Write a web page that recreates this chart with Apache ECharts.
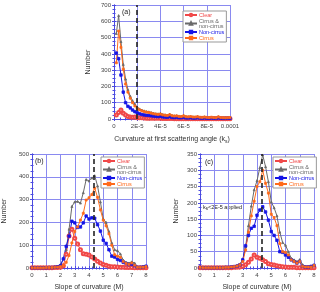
<!DOCTYPE html>
<html><head><meta charset="utf-8">
<script src="https://cdn.jsdelivr.net/npm/echarts@6/dist/echarts.min.js"></script>
<style>html,body{margin:0;padding:0;background:#fff}#c{width:320px;height:292px}</style>
</head><body><div id="c"></div>
<script>
// ---- panel (a): curvature (x in units of 1E-6) ----
const xA = [2,4,6,8,10,12,14,16,18,20,22,24,26,28,30,32,34,36,38,40,42,44,46,48,50,52,54,56,58,60,62,64,66,68,70,72,74,76,78,80,82,84,86,88,90,92,94,96,98,100];
const clearA = [25,40,55,35,25,16,12,10,12,8,7,7,6,5,5,5,4,4,4,4,3,3,3,3,3,2,2,2,2,2,2,2,2,2,1,1,1,1,1,1,1,1,1,1,1,1,1,1,1,1];
const bothA = [525,635,475,335,245,180,140,112,92,72,62,55,50,46,44,40,36,33,32,35,28,26,24,30,22,20,21,18,17,22,16,15,17,14,13,16,12,12,14,11,10,12,10,9,15,10,9,8,9,10];
const nonA = [405,370,270,165,100,78,68,55,45,38,32,28,25,23,22,20,18,16,15,17,13,12,11,14,10,9,10,8,8,10,7,7,8,6,6,8,6,5,7,5,5,6,5,4,7,5,4,4,5,5];
const cirA = [345,540,440,305,215,165,128,100,80,65,56,50,45,42,40,36,32,30,28,30,25,23,21,26,20,18,19,16,15,19,14,13,15,12,12,14,11,10,12,10,9,11,9,8,13,9,8,7,8,9];
const tickA = ['0','2E-5','4E-5','6E-5','8E-5','0.0001'];
const thrA = 20;

// ---- panels (b),(c): slope of curvature ----
const xM = [0,0.2,0.4,0.6,0.8,1,1.2,1.4,1.6,1.8,2,2.2,2.4,2.6,2.8,3,3.2,3.4,3.6,3.8,4,4.2,4.4,4.6,4.8,5,5.2,5.4,5.6,5.8,6,6.2,6.4,6.6,6.8,7,7.2,7.4,7.6,7.8,8];
const clearB = [1,1,1,1,1,1,1,1,2,2,3,10,60,140,170,130,105,80,62,60,57,48,40,30,22,15,12,8,6,5,4,3,3,2,2,2,1,1,1,1,1];
const bothB = [2,2,1,2,2,2,3,3,5,8,15,40,80,170,270,290,292,285,330,388,382,395,405,360,290,215,200,160,110,80,76,62,35,25,22,27,22,5,5,6,8];
const nonB = [1,1,1,1,1,1,2,2,3,5,10,40,95,140,205,198,178,180,198,228,215,220,218,190,162,122,108,80,52,48,38,33,25,20,15,17,10,3,3,5,8];
const cirB = [1,1,1,1,1,2,2,2,3,4,6,12,25,55,110,160,180,210,240,298,308,322,350,310,255,210,185,150,100,58,52,47,28,20,16,22,12,3,3,4,6];

const clearC = [1,1,1,1,1,1,1,1,1,1,1,1,2,2,3,5,10,18,28,40,33,30,25,20,13,11,9,7,5,4,3,2,2,2,1,1,1,1,1,1,1];
const bothC = [3,2,1,1,1,2,2,2,2,2,3,3,5,8,12,25,65,130,190,240,268,308,347,311,265,203,185,160,110,78,70,50,30,25,20,26,10,5,5,5,10];
const nonC = [2,1,1,1,1,1,1,1,1,2,2,3,4,6,10,25,68,100,122,128,162,178,188,172,147,112,100,85,50,48,40,33,25,20,15,20,5,3,3,5,8];
const cirC = [2,1,1,1,1,1,1,1,1,2,2,3,4,6,10,20,55,110,160,205,250,265,300,260,230,165,155,130,75,50,48,40,25,20,15,20,5,3,3,3,8];
const thrM = 4.3;

const names = ['Clear','Cirrus &\nnon-cirrus','Non-cirrus','Cirrus'];
const colors = ['#f04848','#6a6a6a','#1414e6','#ff6a1a'];
const symbols = ['emptyCircle','triangle','rect','rect'];
const symSize = [3,2,2.5,2];

const blue = '#4a4ae0';
const gridLine = '#8a8af0';

function zip(x,y){return x.map((v,i)=>[v,y[i]]);}

const grids = [
  {left:114, top:5, width:116, height:114},
  {left:31, top:154, width:115, height:114},
  {left:200, top:154, width:114, height:114}
];

const xAxes = [], yAxes = [];
function addAxes(gi, xmin, xmax, xint, xfmt, xname, ymin, ymax, yint, ynameGap){
  const common = {
    gridIndex: gi,
    axisLine:{show:true, lineStyle:{color:blue, width:1}},
    axisTick:{show:true, inside:true, length:2, lineStyle:{color:blue}},
    minorTick:{show:true, splitNumber:4, length:1.5, lineStyle:{color:blue}},
    splitLine:{show:true, lineStyle:{color:gridLine, width:1}}
  };
  xAxes.push(Object.assign({}, common, {
    type:'value', min:xmin, max:xmax, interval:xint, position:'bottom',
    axisLabel:{fontSize:6, color:'#444', margin:4, formatter:xfmt},
    name:xname, nameLocation:'middle', nameGap:16,
    nameTextStyle:{fontSize:7, color:'#333', rich:{sub:{fontSize:5, color:'#333', padding:[4,0,0,0]}}}
  }));
  xAxes.push(Object.assign({}, common, {
    type:'value', min:xmin, max:xmax, interval:xint, position:'top',
    axisLabel:{show:false}, splitLine:{show:false}
  }));
  yAxes.push(Object.assign({}, common, {
    type:'value', min:ymin, max:ymax, interval:yint, position:'left',
    axisLabel:{fontSize:6, color:'#444', margin:3},
    name:'Number', nameLocation:'middle', nameGap:ynameGap,
    nameTextStyle:{fontSize:7, color:'#333'}
  }));
  yAxes.push(Object.assign({}, common, {
    type:'value', min:ymin, max:ymax, interval:yint, position:'right',
    axisLabel:{show:false}, splitLine:{show:false}
  }));
}
addAxes(0, 0, 100, 20, v=>tickA[Math.round(v/20)], 'Curvature at first scattering angle (k{sub|s})', 0, 700, 100, 22);
addAxes(1, 0, 8, 1, v=>String(v), 'Slope of curvature (M)', 0, 500, 100, 24);
addAxes(2, 0, 8, 1, v=>String(v), 'Slope of curvature (M)', 0, 350, 50, 20);

const panelData = [
  [xA, [clearA,bothA,nonA,cirA], thrA],
  [xM, [clearB,bothB,nonB,cirB], thrM],
  [xM, [clearC,bothC,nonC,cirC], thrM]
];
const series = [];
panelData.forEach((p,gi)=>{
  p[1].forEach((ys,si)=>{
    const s = {
      type:'line', name:names[si], xAxisIndex:gi*2, yAxisIndex:gi*2,
      data:zip(p[0],ys), symbol:symbols[si], symbolSize:symSize[si],
      showSymbol:true, animation:false,
      lineStyle:{color:colors[si], width:1},
      itemStyle:{color:colors[si], borderColor:colors[si], borderWidth:0.8}
    };
    if(si===3){
      s.markLine = {silent:true, symbol:'none', animation:false, label:{show:false},
        lineStyle:{color:'#222', type:[5,3], width:1.6},
        data:[{xAxis:p[2]}]};
    }
    series.push(s);
  });
});

function mkLegend(left, top){
  return {
    left:left, top:top, orient:'vertical', itemWidth:12, itemHeight:3, itemGap:0,
    padding:[1,2,1,1], backgroundColor:'#fff', borderColor:'#999', borderWidth:1,
    textStyle:{fontSize:5.5, lineHeight:5, padding:[0,0,0,-3]},
    selectedMode:false,
    data:names.map((n,i)=>({name:n, textStyle:{color:colors[i]}}))
  };
}

const option = {
  animation:false,
  grid:grids,
  xAxis:xAxes,
  yAxis:yAxes,
  legend:[mkLegend(183,11), mkLegend(101,157), mkLegend(273,157)],
  series:series,
  graphic:[
    {type:'text', left:122, top:9, style:{text:'(a)', fontSize:7, fill:'#222'}},
    {type:'text', left:35, top:158, style:{text:'(b)', fontSize:7, fill:'#222'}},
    {type:'text', left:205, top:159, style:{text:'(c)', fontSize:7, fill:'#222'}},
    {type:'text', left:203, top:204, style:{text:'k{sub|s}<2E-5 applied', fontSize:5.5, fill:'#222',
      rich:{sub:{fontSize:4.5, fill:'#222', padding:[3,0,0,0]}}}}
  ]
};
const chart = echarts.init(document.getElementById('c'), null, {renderer:'canvas'});
chart.setOption(option);
</script></body></html>
